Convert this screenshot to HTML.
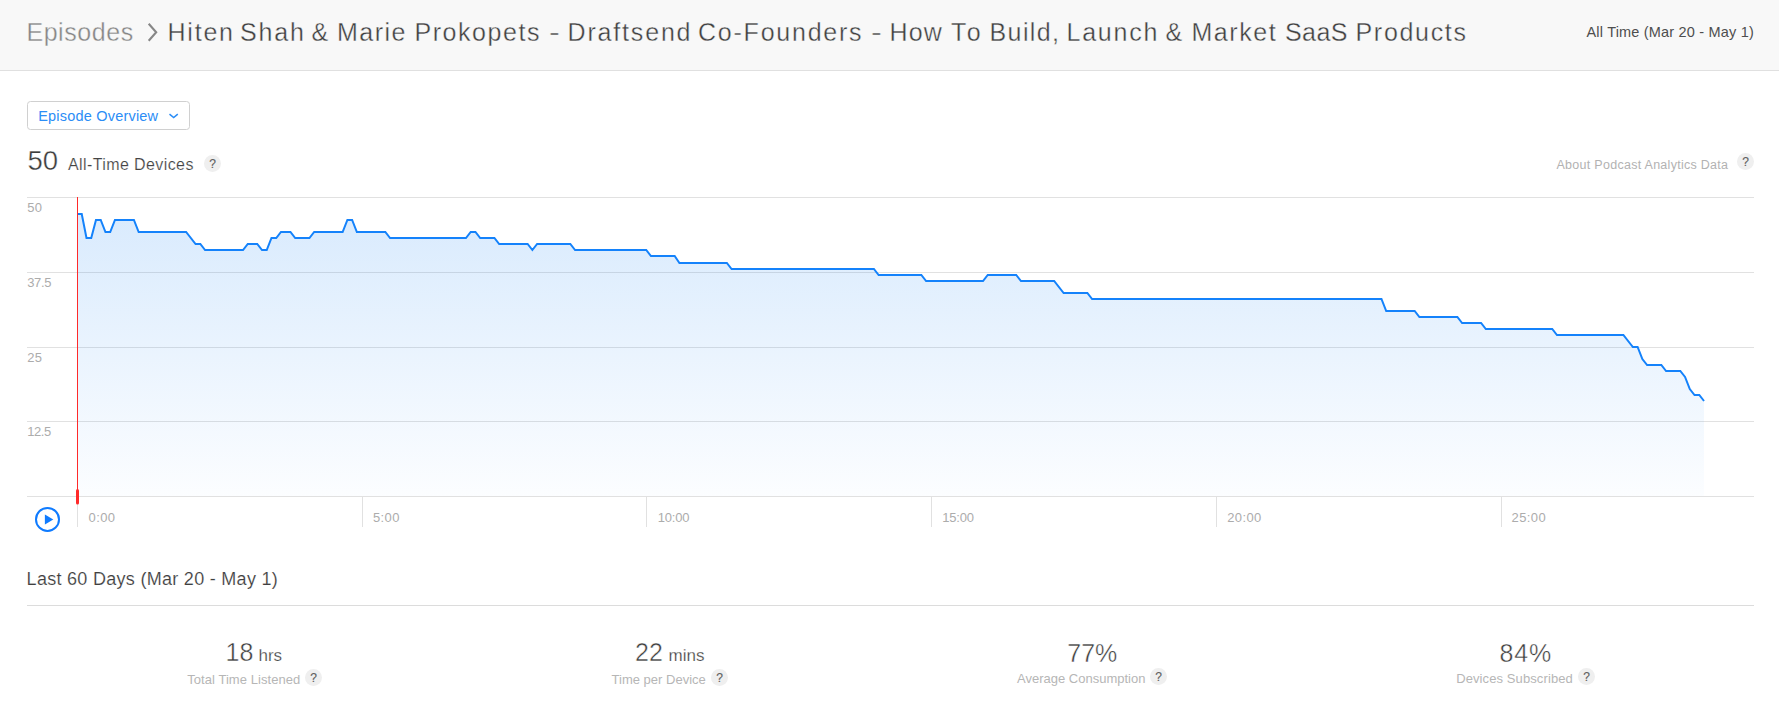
<!DOCTYPE html>
<html lang="en"><head><meta charset="utf-8"><title>Episode Overview</title>
<style>
*{box-sizing:border-box;margin:0;padding:0}
html,body{width:1779px;height:718px;overflow:hidden;background:#fff;font-family:"Liberation Sans",sans-serif;}
.t{position:absolute;white-space:nowrap}
#hdr{position:absolute;left:0;top:0;width:1779px;height:71px;background:#f8f8f8;border-bottom:1px solid #e0e0e0}
#crumb{left:26.4px;top:17px;font-size:25px;line-height:30px;color:#858585;letter-spacing:.57px;-webkit-text-stroke:.35px #f8f8f8}
#title{left:0;top:17px;width:1500px;height:30px;font-size:25px;line-height:30px;color:#404040;-webkit-text-stroke:.35px #f8f8f8}
#title span{position:absolute;top:0}
#range{left:1586.5px;top:23px;font-size:14.5px;line-height:18px;color:#4e4e4e;letter-spacing:.19px}
h1,h2{font-weight:normal}a{text-decoration:none}
#btn{position:absolute;left:27px;top:101px;width:163px;height:29px;border:1px solid #d0d0d0;border-radius:3.5px;background:#fff;font:inherit;text-align:left;cursor:pointer}
#btnt{left:10.2px;top:5.8px;font-size:14.5px;line-height:17px;color:#2b8df6;letter-spacing:.2px}
#big{left:27.4px;top:145.5px;font-size:27.5px;line-height:30px;color:#3c3c3c;-webkit-text-stroke:.38px #fff}
#atd{left:68px;top:155px;font-size:16px;line-height:20px;color:#444;letter-spacing:.4px;-webkit-text-stroke:.18px #fff}
.q{position:absolute;width:17px;height:17px;border-radius:50%;background:#efefef;color:#606060;font-size:12px;line-height:19.4px;text-align:center;-webkit-text-stroke:.15px #606060}
#about{left:1556.5px;top:157px;font-size:12.5px;line-height:16px;color:#b2b2b2;letter-spacing:.28px}
.grid{position:absolute;left:27px;width:1727px;height:1px;background:#e1e1e1}
.yl{left:27.2px;font-size:13px;line-height:15px;color:#acacac;letter-spacing:.3px}
.tick{position:absolute;top:497px;width:1px;height:30px;background:#e1e1e1}
.tl{top:510px;font-size:13px;line-height:15px;color:#acacac}
#l60{left:26.6px;top:568px;font-size:18px;line-height:22px;color:#404040;letter-spacing:.29px;-webkit-text-stroke:.15px #fff}
#hr2{position:absolute;left:27px;top:605px;width:1727px;height:1px;background:#dcdcdc}
.n{font-size:25px;line-height:30px;color:#3c3c3c;-webkit-text-stroke:.45px #fff}
.u{font-size:17px;line-height:20px;color:#3e3e3e;-webkit-text-stroke:.25px #fff}
.c{font-size:13px;line-height:16px;color:#b6b6b6}
svg{position:absolute;left:0;top:0}
</style></head><body>
<header id="hdr">
<nav><a id="crumb" class="t">Episodes</a></nav>
<h1 id="title" class="t"><span style="left:167.50px;letter-spacing:1.78px">Hiten</span> <span style="left:240.00px;letter-spacing:1.84px">Shah</span> <span style="left:311.50px;">&amp;</span> <span style="left:337.00px;letter-spacing:1.49px">Marie</span> <span style="left:414.50px;letter-spacing:1.54px">Prokopets</span> <span style="left:548.50px;transform:scaleX(1.3);transform-origin:0 0">-</span> <span style="left:567.50px;letter-spacing:1.83px">Draftsend</span> <span style="left:698.00px;letter-spacing:1.77px">Co-Founders</span> <span style="left:871.00px;transform:scaleX(1.3);transform-origin:0 0">-</span> <span style="left:889.50px;letter-spacing:1.18px">How</span> <span style="left:951.00px;letter-spacing:3.16px">To</span> <span style="left:989.50px;letter-spacing:1.40px">Build,</span> <span style="left:1066.50px;letter-spacing:1.76px">Launch</span> <span style="left:1165.50px;">&amp;</span> <span style="left:1191.50px;letter-spacing:1.54px">Market</span> <span style="left:1285.00px;letter-spacing:0.40px">SaaS</span> <span style="left:1355.50px;letter-spacing:1.69px">Products</span></h1>
<div id="range" class="t">All Time (Mar 20 - May 1)</div>
</header>
<main>
<button id="btn" type="button"><span id="btnt" class="t">Episode Overview</span></button>
<section id="chart">
<div class="grid" style="top:197px"></div>
<div class="grid" style="top:272px"></div>
<div class="grid" style="top:347px"></div>
<div class="grid" style="top:421px"></div>
<div class="grid" style="top:496px"></div>
<div class="tick" style="left:77px"></div>
<div class="tick" style="left:362px"></div>
<div class="tick" style="left:646px"></div>
<div class="tick" style="left:931px"></div>
<div class="tick" style="left:1216px"></div>
<div class="tick" style="left:1501px"></div>
<svg width="1779" height="718" viewBox="0 0 1779 718" aria-hidden="true">
<defs><linearGradient id="g" x1="0" y1="214" x2="0" y2="496" gradientUnits="userSpaceOnUse">
<stop offset="0" stop-color="#2087f5" stop-opacity=".17"/><stop offset="1" stop-color="#2087f5" stop-opacity=".015"/></linearGradient></defs>
<path d="M148.7 23.8 L156.2 32.3 L148.7 40.8" fill="none" stroke="#878787" stroke-width="2.1"/>
<path d="M169.5 114.1 L173.65 117.6 L177.8 114.1" fill="none" stroke="#2b8df6" stroke-width="1.5"/>
<path d="M78 214 L81.74 214 L86.49 238 L91.23 238 L95.97 220 L100.72 220 L105.46 232 L110.2 232 L114.95 220 L133.92 220 L138.67 232 L186.1 232 L195.59 244 L200.33 244 L205.07 250 L243.02 250 L247.77 244 L257.25 244 L262 250 L266.74 250 L271.48 238 L276.23 238 L280.97 232 L290.46 232 L295.2 238 L309.43 238 L314.18 232 L342.64 232 L347.38 220 L352.12 220 L356.87 232 L385.33 232 L390.07 238 L465.97 238 L470.71 232 L475.45 232 L480.2 238 L494.43 238 L499.17 244 L527.63 244 L532.38 250 L537.12 244 L570.32 244 L575.07 250 L646.22 250 L650.96 256 L674.68 256 L679.42 263 L726.86 263 L731.6 269 L873.91 269 L878.65 275 L921.34 275 L926.09 281 L983.01 281 L987.75 275 L1016.21 275 L1020.96 281 L1054.16 281 L1063.65 293 L1087.37 293 L1092.11 299 L1381.46 299 L1386.21 311 L1414.67 311 L1419.41 317 L1457.36 317 L1462.1 323 L1481.08 323 L1485.82 329 L1552.23 329 L1556.97 335 L1623.38 335 L1632.87 347 L1637.61 347 L1642.36 359 L1647.1 365 L1661.33 365 L1666.07 371 L1680.3 371 L1685.05 377 L1689.79 389 L1694.53 395 L1699.28 395 L1704.02 401 L1704.02 496 L78 496 Z" fill="url(#g)"/>
<path d="M78 214 L81.74 214 L86.49 238 L91.23 238 L95.97 220 L100.72 220 L105.46 232 L110.2 232 L114.95 220 L133.92 220 L138.67 232 L186.1 232 L195.59 244 L200.33 244 L205.07 250 L243.02 250 L247.77 244 L257.25 244 L262 250 L266.74 250 L271.48 238 L276.23 238 L280.97 232 L290.46 232 L295.2 238 L309.43 238 L314.18 232 L342.64 232 L347.38 220 L352.12 220 L356.87 232 L385.33 232 L390.07 238 L465.97 238 L470.71 232 L475.45 232 L480.2 238 L494.43 238 L499.17 244 L527.63 244 L532.38 250 L537.12 244 L570.32 244 L575.07 250 L646.22 250 L650.96 256 L674.68 256 L679.42 263 L726.86 263 L731.6 269 L873.91 269 L878.65 275 L921.34 275 L926.09 281 L983.01 281 L987.75 275 L1016.21 275 L1020.96 281 L1054.16 281 L1063.65 293 L1087.37 293 L1092.11 299 L1381.46 299 L1386.21 311 L1414.67 311 L1419.41 317 L1457.36 317 L1462.1 323 L1481.08 323 L1485.82 329 L1552.23 329 L1556.97 335 L1623.38 335 L1632.87 347 L1637.61 347 L1642.36 359 L1647.1 365 L1661.33 365 L1666.07 371 L1680.3 371 L1685.05 377 L1689.79 389 L1694.53 395 L1699.28 395 L1704.02 401" fill="none" stroke="#1482fb" stroke-width="2" stroke-linejoin="miter"/>
<rect x="77" y="197" width="1" height="300" fill="#ff2a2a"/>
<rect x="76" y="489" width="3" height="15.5" rx="1.5" fill="#ff2a2a"/>
<circle cx="47.5" cy="519.4" r="11.5" fill="none" stroke="#0f7bff" stroke-width="2"/>
<path d="M44.9 514.5 L53.3 519.45 L44.9 524.4 Z" fill="#0f7bff"/>
</svg>
<h2 id="big" class="t">50</h2>
<div id="atd" class="t">All-Time Devices</div>
<span class="q" style="left:204px;top:155px">?</span>
<a id="about" class="t">About Podcast Analytics Data</a>
<span class="q" style="left:1737px;top:153.4px">?</span>
<div class="t yl" style="top:200px">50</div>
<div class="t yl" style="top:275px;letter-spacing:-.3px">37.5</div>
<div class="t yl" style="top:350px">25</div>
<div class="t yl" style="top:424px;letter-spacing:-.4px">12.5</div>
<div class="t tl" style="left:88.6px;letter-spacing:0.4px">0:00</div>
<div class="t tl" style="left:372.9px;letter-spacing:0.4px">5:00</div>
<div class="t tl" style="left:657.7px;letter-spacing:-0.2px">10:00</div>
<div class="t tl" style="left:942.3px;letter-spacing:-0.2px">15:00</div>
<div class="t tl" style="left:1227.2px;letter-spacing:0.4px">20:00</div>
<div class="t tl" style="left:1511.6px;letter-spacing:0.4px">25:00</div>
</section>
<section id="stats">
<h2 id="l60" class="t">Last 60 Days (Mar 20 - May 1)</h2>
<div id="hr2"></div>
<div class="stat"><div class="t n" style="left:225.5px;top:637px">18</div><div class="t u" style="left:258.5px;top:646px">hrs</div>
<div class="t c" style="left:187.2px;top:672px;letter-spacing:.06px">Total Time Listened</div><span class="q" style="left:305px;top:669px">?</span></div>
<div class="stat"><div class="t n" style="left:635px;top:636.7px">22</div><div class="t u" style="left:668.6px;top:645.6px">mins</div>
<div class="t c" style="left:611.6px;top:672px">Time per Device</div><span class="q" style="left:711px;top:669px">?</span></div>
<div class="stat"><div class="t n" style="left:1067.3px;top:638px">77%</div>
<div class="t c" style="left:1017px;top:671px">Average Consumption</div><span class="q" style="left:1150px;top:668px">?</span></div>
<div class="stat"><div class="t n" style="left:1499.5px;top:638px;letter-spacing:.8px">84%</div>
<div class="t c" style="left:1456.2px;top:671px;letter-spacing:.1px">Devices Subscribed</div><span class="q" style="left:1578px;top:668px">?</span></div>
</section>
</main>
</body></html>
